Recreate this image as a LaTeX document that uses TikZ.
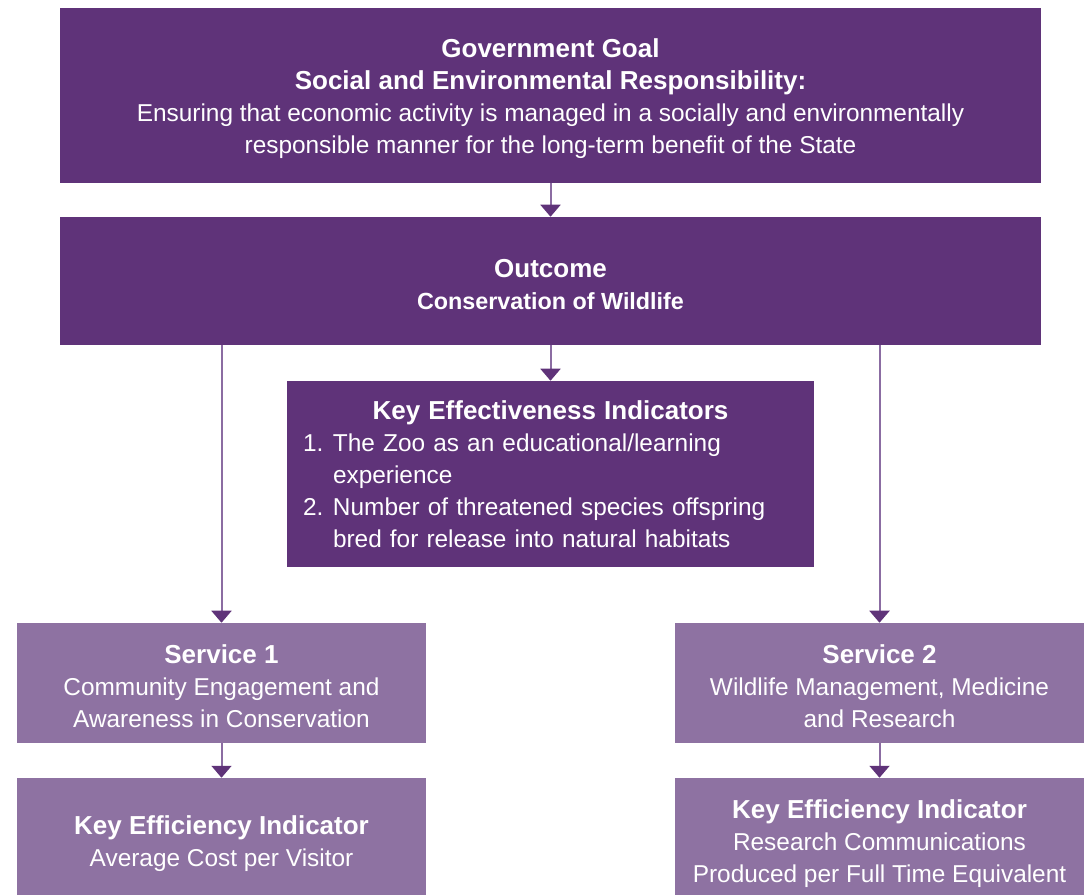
\documentclass[tikz,border=0pt]{standalone}
\usepackage{fontspec}
\setmainfont{Liberation Sans}
\usetikzlibrary{arrows.meta}
\definecolor{darkp}{RGB}{95,51,121}
\definecolor{lightp}{RGB}{142,114,162}
\definecolor{linep}{RGB}{139,108,162}
\newcommand{\bodyfont}{\fontsize{18.3}{24}\selectfont}
\newcommand{\ttl}[1]{{\fontsize{19.5}{24}\selectfont\bfseries\rule{0pt}{18.5pt}#1}}
\tikzset{
  darkbox/.style={fill=darkp, draw=none, text=white, inner sep=0pt, align=center, font=\bodyfont},
  lightbox/.style={fill=lightp, draw=none, text=white, inner sep=0pt, align=center, font=\bodyfont},
  conn/.style={draw=linep, line width=1.5pt, -{Triangle[width=15pt,length=9pt,color=darkp]}}
}
\begin{document}
\begin{tikzpicture}[x=0.75pt,y=-0.75pt]
\useasboundingbox (0,0) rectangle (1084,894);
\node[darkbox, minimum width=735.75pt, minimum height=131.25pt] (goal) at (550.5,95.5)
  {\ttl{Government Goal}\\ \ttl{Social and Environmental Responsibility:}\\
   Ensuring that economic activity is managed in a socially and environmentally\\
   responsible manner for the long-term benefit of the State};
\node[darkbox, minimum width=735.75pt, minimum height=96pt] (outcome) at (550.5,281)
  {\ttl{Outcome}\\ {\fontsize{17.5}{24}\selectfont\bfseries Conservation of Wildlife}};
\node[darkbox, minimum width=395.25pt, minimum height=139.5pt, text width=371.25pt, align=left] (kei) at (550.5,474)
  {\makebox[\linewidth][c]{\fontsize{19.5}{24}\selectfont\bfseries Key Effectiveness Indicators}\\
   \makebox[22.5pt][l]{1.}The Zoo as an educational/learning\\
   \hspace*{22.5pt}experience\\
   \makebox[22.5pt][l]{2.}Number of threatened species offspring\\
   \hspace*{22.5pt}bred for release into natural habitats};
\node[lightbox, minimum width=306.75pt, minimum height=90pt] (s1) at (221.5,683)
  {\ttl{Service 1}\\ Community Engagement and\\ Awareness in Conservation};
\node[lightbox, minimum width=306.75pt, minimum height=90pt] (s2) at (879.5,683)
  {\ttl{Service 2}\\ Wildlife Management, Medicine\\ and Research};
\node[lightbox, minimum width=306.75pt, minimum height=94.5pt] (e1) at (221.5,841)
  {\ttl{Key Efficiency Indicator}\\ Average Cost per Visitor};
\node[lightbox, minimum width=306.75pt, minimum height=94.5pt] (e2) at (879.5,841)
  {\ttl{Key Efficiency Indicator}\\ Research Communications\\ Produced per Full Time Equivalent};
\draw[conn] (goal.south) -- (outcome.north);
\draw[conn] (outcome.south) -- (kei.north);
\draw[conn] (outcome.south -| s1.north) -- (s1.north);
\draw[conn] (outcome.south -| s2.north) -- (s2.north);
\draw[conn] (s1.south) -- (e1.north);
\draw[conn] (s2.south) -- (e2.north);
\end{tikzpicture}
\end{document}
